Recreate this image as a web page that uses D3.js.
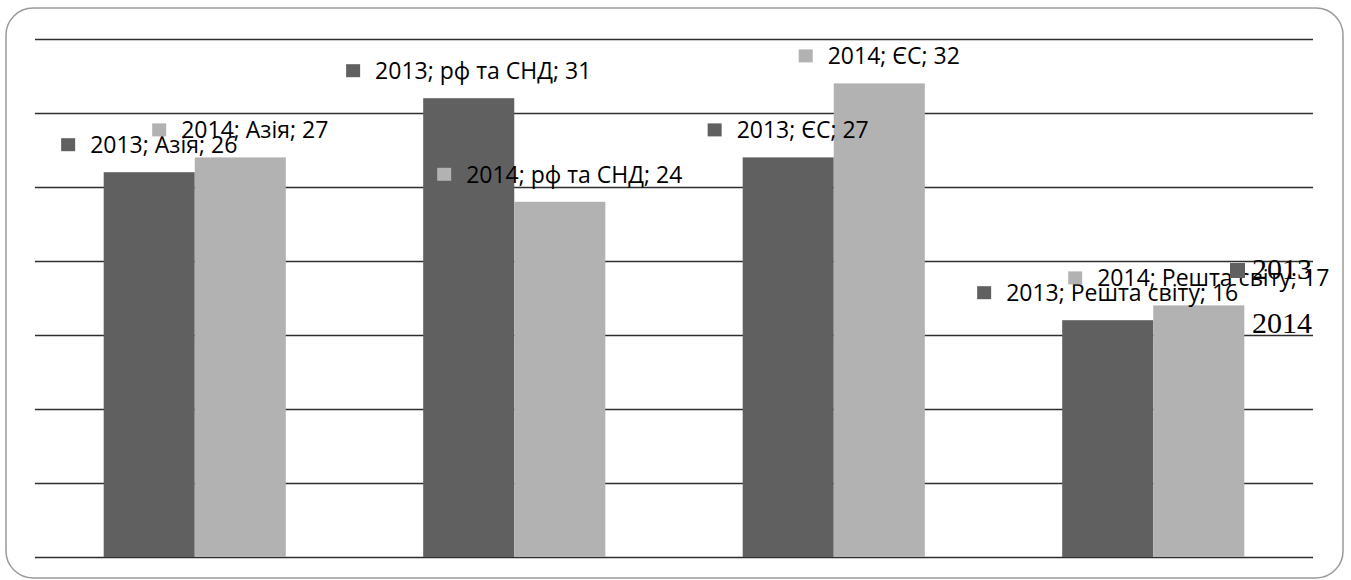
<!DOCTYPE html>
<html>
<head>
<meta charset="utf-8">
<script src="https://cdn.jsdelivr.net/npm/d3@7"></script>
<style>
  body { margin: 0; background: #fff; }
  .label { font-family: "Open Sans", sans-serif; font-size: 23px; fill: #000; }
  .legend { font-family: "Liberation Serif", serif; font-size: 30px; fill: #000; }
</style>
</head>
<body>
<svg width="1351" height="580"></svg>
<script>
var categories = ["Азія", "рф та СНД", "ЄС", "Решта світу"];
var seriesNames = ["2013", "2014"];
var values2013 = [26, 31, 27, 16];
var values2014 = [27, 24, 32, 17];
var yTicks = [0, 5, 10, 15, 20, 25, 30, 35];

var colors = {"2013": "#606060", "2014": "#b2b2b2"};

var svg = d3.select("svg"),
    margin = {top: 39, right: 38, bottom: 23, left: 35},
    width = +svg.attr("width") - margin.left - margin.right,
    height = +svg.attr("height") - margin.top - margin.bottom;

// frame
svg.append("rect")
    .attr("x", 6).attr("y", 8)
    .attr("width", 1337).attr("height", 570)
    .attr("rx", 27).attr("ry", 27)
    .attr("fill", "none")
    .attr("stroke", "#9a9a9a")
    .attr("stroke-width", 1.5);

var g = svg.append("g")
    .attr("transform", "translate(" + margin.left + "," + margin.top + ")");

var x0 = d3.scaleBand().domain(categories).range([0, width])
    .paddingInner(0.43).paddingOuter(0.215);
var x1 = d3.scaleBand().domain(seriesNames).range([0, x0.bandwidth()]);
var y = d3.scaleLinear().domain([0, 35]).range([height, 0]);

g.append("g")
    .attr("class", "grid")
    .selectAll("line")
    .data(yTicks)
    .enter().append("line")
      .attr("x1", 0).attr("x2", width)
      .attr("y1", function(d) { return Math.round(y(d)) + 0.5; })
      .attr("y2", function(d) { return Math.round(y(d)) + 0.5; })
      .attr("stroke", "#2e2e2e")
      .attr("stroke-width", 1.3);

var data = categories.map(function(c, i) {
  return {cat: c, vals: [
    {s: "2013", v: values2013[i]},
    {s: "2014", v: values2014[i]}
  ]};
});

var groups = g.selectAll(".cat")
    .data(data)
    .enter().append("g")
      .attr("class", "cat")
      .attr("transform", function(d) { return "translate(" + x0(d.cat) + ",0)"; });

groups.selectAll("rect")
    .data(function(d) { return d.vals; })
    .enter().append("rect")
      .attr("x", function(d) { return x1(d.s); })
      .attr("y", function(d) { return y(d.v); })
      .attr("width", x1.bandwidth())
      .attr("height", function(d) { return height - y(d.v); })
      .attr("fill", function(d) { return colors[d.s]; });

// data labels: "■ series; category; value"
data.forEach(function(d) {
  d.vals.forEach(function(p) {
    var cx = x0(d.cat) + x1(p.s) + x1.bandwidth() / 2;
    var lab = g.append("g");
    var t = lab.append("text")
        .attr("class", "label")
        .attr("y", y(p.v) - 19)
        .text(p.s + "; " + d.cat + "; " + p.v);
    var w = t.node().getComputedTextLength();
    var total = w + 29;
    var left = cx - total / 2;
    t.attr("x", left + 29);
    lab.append("rect")
        .attr("x", left)
        .attr("y", y(p.v) - 34)
        .attr("width", 14).attr("height", 13)
        .attr("fill", colors[p.s]);
  });
});

// legend (overlapping, right side)
svg.append("rect")
    .attr("x", 1230).attr("y", 263)
    .attr("width", 15).attr("height", 15)
    .attr("fill", colors["2013"]);
svg.append("text").attr("class", "legend")
    .attr("x", 1252).attr("y", 279).text(seriesNames[0]);
svg.append("text").attr("class", "legend")
    .attr("x", 1252).attr("y", 333).text(seriesNames[1]);
</script>
</body>
</html>
